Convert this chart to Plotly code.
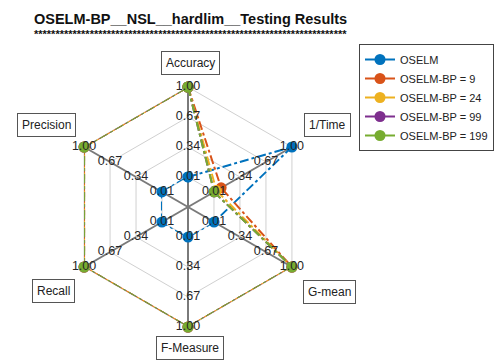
import plotly.graph_objects as go

categories = ["Accuracy", "1/Time", "G-mean", "F-Measure", "Recall", "Precision"]
tick_values = [0.01, 0.34, 0.67, 1.00]
tick_labels = ["0.01", "0.34", "0.67", "1.00"]

series_names = ["OSELM", "OSELM-BP = 9", "OSELM-BP = 24", "OSELM-BP = 99", "OSELM-BP = 199"]
oselm = [0.01, 1.00, 0.01, 0.01, 0.01, 0.01]
bp9 = [1.00, 0.10, 1.00, 1.00, 1.00, 1.00]
bp24 = [1.00, 0.04, 1.00, 1.00, 1.00, 1.00]
bp99 = [1.00, 0.01, 1.00, 1.00, 1.00, 1.00]
bp199 = [1.00, 0.01, 1.00, 1.00, 1.00, 1.00]
series_values = [oselm, bp9, bp24, bp99, bp199]
colors = ["#0072BD", "#D95319", "#EDB120", "#7E2F8E", "#77AC30"]

FONT = "Liberation Sans, Arial, sans-serif"

fig = go.Figure()

# data on the overlay polar (hole = inner 0.01 ring)
for name, vals, col in zip(series_names, series_values, colors):
    fig.add_trace(go.Scatterpolar(
        r=vals + [vals[0]], theta=categories + [categories[0]],
        mode="lines+markers", subplot="polar2",
        line=dict(color=col, width=2, dash="dashdot"),
        marker=dict(color=col, size=11),
        showlegend=False, hoverinfo="skip",
    ))

# legend entries (solid line + marker)
for name, col in zip(series_names, colors):
    fig.add_trace(go.Scatterpolar(
        r=[None], theta=[categories[0]], name=name, subplot="polar",
        mode="lines+markers",
        line=dict(color=col, width=2),
        marker=dict(color=col, size=11),
    ))

# tick labels on each spoke
for cat in categories:
    fig.add_trace(go.Scatterpolar(
        r=tick_values, theta=[cat] * len(tick_values), subplot="polar2",
        mode="text", text=tick_labels,
        textposition="middle center",
        textfont=dict(family=FONT, size=12.5, color="#262626"),
        showlegend=False, hoverinfo="skip",
    ))

cx, cy, R = 188, 207, 120
W, H = 500, 361
dom = dict(x=[(cx - R) / W, (cx + R) / W], y=[(H - cy - R) / H, (H - cy + R) / H])
ang_common = dict(
    categoryarray=categories, categoryorder="array",
    direction="clockwise", rotation=90,
    showticklabels=False, ticks="",
)

fig.update_layout(
    width=W, height=H,
    margin=dict(l=0, r=0, t=0, b=0),
    paper_bgcolor="white",
    showlegend=True,
    polar=dict(
        domain=dom,
        bgcolor="white",
        gridshape="linear",
        radialaxis=dict(
            range=[-0.32, 1.0], tickvals=tick_values, showticklabels=False,
            ticks="", showline=False, gridcolor="#d0d0d0", gridwidth=1,
        ),
        angularaxis=dict(
            **ang_common,
            gridcolor="#7a7a7a", gridwidth=1.5,
            linecolor="#d0d0d0", linewidth=1,
        ),
    ),
    polar2=dict(
        domain=dom,
        bgcolor="rgba(0,0,0,0)",
        gridshape="linear",
        hole=0.25,
        radialaxis=dict(range=[0.009, 1.0], visible=False, showgrid=False),
        angularaxis=dict(**ang_common, showgrid=False, showline=False),
    ),
    legend=dict(
        x=359 / W, y=1 - 44 / H, xanchor="left", yanchor="top",
        bordercolor="#444444", borderwidth=1, bgcolor="white",
        font=dict(family=FONT, size=11, color="#222222"),
        tracegroupgap=0, itemwidth=30,
    ),
)

label_pos = {
    "Accuracy": (190, 63),
    "1/Time": (327, 125),
    "G-mean": (329, 292),
    "F-Measure": (190, 348),
    "Recall": (53, 291),
    "Precision": (46, 125),
}
for cat in categories:
    x, y = label_pos[cat]
    fig.add_annotation(
        x=x / W, y=1 - y / H, xref="paper", yref="paper",
        xanchor="center", yanchor="middle",
        text=cat, showarrow=False,
        font=dict(family=FONT, size=12, color="#222222"),
        bordercolor="#555555", borderwidth=1, borderpad=4, bgcolor="white",
    )

fig.add_annotation(
    x=190 / W, y=1 - 19 / H, xref="paper", yref="paper",
    xanchor="center", yanchor="middle",
    text="<b>OSELM-BP__NSL__hardlim__Testing Results</b>", showarrow=False,
    font=dict(family=FONT, size=14.5, color="#111111"),
)
fig.add_annotation(
    x=190 / W, y=1 - 34 / H, xref="paper", yref="paper",
    xanchor="center", yanchor="middle",
    text="<b>" + "*" * 73 + "</b>", showarrow=False,
    font=dict(family=FONT, size=11, color="#111111"),
)

fig.write_html(
    "out.html",
    config={"displayModeBar": False},
    post_script="document.body.style.margin='0';document.body.style.overflow='hidden';",
)
